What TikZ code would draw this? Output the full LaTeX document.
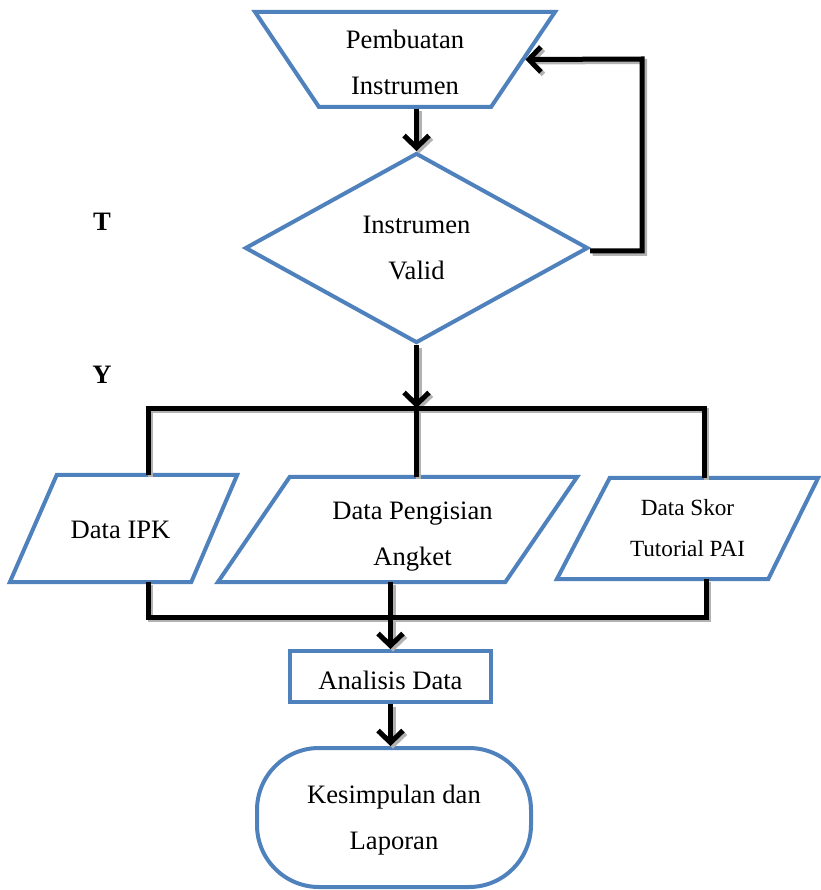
\documentclass[tikz,border=0pt]{standalone}
\usepackage{fontspec}
\setmainfont{Liberation Serif}
\usetikzlibrary{shapes.geometric,arrows.meta,calc}
\definecolor{boxblue}{HTML}{4F81BD}
\newcommand\flowconnectors{%
  \draw[arr] (dia.north |- trap.south) -- (dia.north);
  \draw[arr] ($(dia.east)+(0,3)$) -| (fb) -- (trap.east);
  \draw[arr] (dia.south) -- (dia.south |- bl);
  \draw[conn] (bl |- ipk.north) -- (bl) -- (br) -- (br |- skor.north);
  \draw[conn] (bm) -- (bm |- ang.north);
  \draw[conn] (ipk.south -| cl) -- (cl) -- (cr) -- (skor.south -| cr);
  \draw[arr] (ang.south -| ana.north) -- (ana.north);
  \draw[arr] (ana.south) -- (ana.south |- end.north);
}
\newcommand\lowr[1]{\rule{0pt}{#1pt}}
\begin{document}
\begin{tikzpicture}[x=1pt,y=-1pt,
  font=\fontsize{26.6}{46}\selectfont,
  boxshape/.style={draw=boxblue, line width=4pt, inner sep=0pt, align=center, fill=white},
  boxline/.style={draw=boxblue, line width=4pt},
  frame/.style={rectangle, inner sep=0pt, align=center},
  conncol/.style={draw=black},
  conn/.style={line width=5pt, conncol},
  arr/.style={conn, -{Straight Barb[length=12pt,width=25pt]}},
  yt/.style={font=\fontsize{26.6}{30}\selectfont\bfseries}
]
\useasboundingbox (0,0) rectangle (820,890);

% shapes
\node[boxshape, trapezium, shape border rotate=180, trapezium left angle=58, trapezium right angle=58,
      trapezium stretches=true, minimum width=300pt, minimum height=95pt] (trap) at (405,59.5) {\lowr{24}Pembuatan\\Instrumen};
\node[boxshape, diamond, minimum width=343pt, minimum height=190pt] (dia) at (416.5,248) {Instrumen\\Valid};

\node[frame, minimum width=227pt, minimum height=107pt] (ipk) at (123.5,528.5) {\hspace*{-6pt}\lowr{20}Data IPK};
\draw[boxline] ($(ipk.north west)+(47,0)$) -- (ipk.north east) -- ($(ipk.south east)+(-46,0)$) -- (ipk.south west) -- cycle;

\node[frame, minimum width=359pt, minimum height=105pt] (ang) at (397.5,529.5) {\hspace*{30pt}\lowr{31}Data Pengisian\\\hspace*{30pt}Angket};
\draw[boxline] ($(ang.north west)+(72,0)$) -- (ang.north east) -- ($(ang.south east)+(-72,0)$) -- (ang.south west) -- cycle;

\node[frame, minimum width=261pt, minimum height=101pt, font=\fontsize{23.2}{41}\selectfont] (skor) at (687.5,528.5) {Data Skor\\Tutorial PAI};
\draw[boxline] ($(skor.north west)+(53,0)$) -- (skor.north east) -- ($(skor.south east)+(-50,0)$) -- (skor.south west) -- cycle;

\node[boxshape, rectangle, minimum width=201pt, minimum height=51pt] (ana) at (390.5,676.5) {\lowr{26}Analisis Data};
\node[boxshape, rectangle, rounded corners=62pt, minimum width=274pt, minimum height=139pt] (end) at (394,817.5) {\lowr{24}Kesimpulan dan\\Laporan};

% labels
\node[yt] (lt) at (102,222) {T};
\node[yt] (ly) at (102,375) {Y};

% bus coordinates
\coordinate (bl) at (148,408);
\coordinate (bm) at (416,408);
\coordinate (br) at (704,408);
\coordinate (cl) at (148,617);
\coordinate (cr) at (706,617);
\coordinate (fb) at (642,59);

% connectors: shadow then line
\begin{scope}[transform canvas={shift={(2.5pt,-2.5pt)}}, conncol/.style={draw=black!30}]
  \flowconnectors
\end{scope}
\flowconnectors
\end{tikzpicture}
\end{document}
